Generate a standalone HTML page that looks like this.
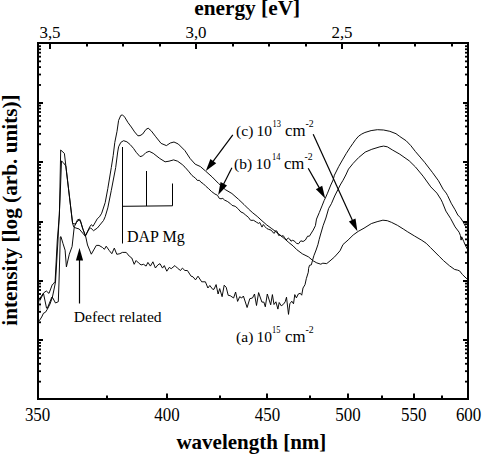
<!DOCTYPE html>
<html><head><meta charset="utf-8"><style>
html,body{margin:0;padding:0;background:#fff;width:482px;height:455px;overflow:hidden}
svg{display:block}
text{font-family:"Liberation Serif",serif;fill:#000}
</style></head><body>
<svg width="482" height="455" viewBox="0 0 482 455">
<g><polyline points="38.0,298.5 39.5,299.0 43.5,293.0 46.3,291.0 49.0,293.4 52.3,284.6 53.2,284.2 55.1,281.4 57.3,240.0 59.4,215.0 60.7,150.0 64.4,153.4 72.6,223.4 75.4,224.1 77.6,219.7 79.8,219.2 82.5,228.0 85.5,235.7 89.7,226.9 91.3,224.7 93.0,226.3 97.4,218.6 99.5,216.8 101.7,213.2 105.2,202.6 107.8,188.6 111.3,167.5 113.2,155.5 114.8,142.4 117.0,131.4 118.6,120.4 120.8,115.4 122.5,114.9 124.7,117.1 128.0,122.6 131.3,127.0 134.6,131.9 137.9,135.8 140.0,135.6 142.6,134.1 145.9,129.5 148.2,128.2 151.2,130.8 155.8,136.8 161.1,143.4 166.4,145.6 170.3,143.0 174.0,142.0 178.3,144.0 184.9,150.6 190.1,158.5 195.2,164.2 200.3,166.5 205.6,171.1 212.2,177.0 218.7,183.6 225.3,189.6 231.9,193.5 238.5,199.3 244.0,204.5 248.4,208.9 252.8,212.9 257.2,216.4 262.0,220.8 266.8,225.0 271.2,228.2 275.6,231.5 280.0,235.0 284.4,238.6 288.8,242.5 293.2,246.0 296.7,249.6 302.3,253.8 308.5,256.9 313.1,260.8 316.8,262.9 320.8,264.2 322.8,263.2 326.7,263.6 330.0,260.9 334.6,256.9 340.0,250.8 343.0,244.5 348.1,240.0 353.2,235.0 358.2,231.4 364.0,228.2 371.3,223.6 377.1,221.7 382.9,220.2 387.3,220.7 391.6,222.4 397.4,225.3 403.3,229.0 407.3,231.6 414.5,236.0 421.8,240.3 426.1,243.2 430.5,247.6 434.9,252.0 439.2,256.3 443.6,260.7 449.4,265.7 454.5,269.4 457.4,270.1 459.5,270.8 462.4,274.5 466.1,278.1 467.5,279.3" fill="none" stroke="#000" stroke-width="0.95" stroke-linejoin="round"/>
<polyline points="38.0,321.5 39.4,320.6 41.7,317.0 43.5,313.2 45.4,312.3 47.2,309.5 50.0,304.0 52.3,297.5 53.7,291.0 55.5,282.0 58.0,240.0 60.0,200.0 61.5,161.0 63.5,162.8 65.8,166.0 72.6,223.4 73.7,226.9 75.9,228.0 79.2,229.0 85.3,236.2 89.1,229.0 90.8,228.0 93.5,230.7 97.4,228.0 103.5,220.5 105.2,216.7 107.8,207.9 111.3,190.4 115.7,167.5 117.7,152.0 118.6,146.8 120.8,142.4 123.6,140.7 126.9,141.8 130.2,144.6 133.5,148.4 136.2,152.3 140.0,156.6 142.6,155.9 145.9,152.6 149.2,151.3 153.2,153.3 159.8,158.5 165.1,161.8 169.0,161.2 173.6,159.9 177.6,161.2 182.2,164.5 185.0,167.2 188.5,171.2 192.0,175.5 193.8,176.9 195.5,178.2 197.3,180.4 199.5,180.4 200.8,182.1 203.5,183.9 206.1,186.5 208.7,188.7 211.4,191.4 214.9,194.0 217.5,195.3 219.3,198.4 221.0,198.8 222.8,198.4 224.6,200.1 227.3,201.4 229.9,203.2 232.1,205.4 235.2,206.3 237.8,208.5 240.9,212.0 243.1,212.9 245.7,215.1 248.4,217.3 250.6,220.3 253.6,220.3 256.3,222.1 258.5,223.4 259.8,222.5 261.1,225.2 262.0,227.1 263.3,224.5 265.0,226.7 266.8,228.5 268.5,229.3 271.2,230.2 273.4,232.9 274.3,233.3 275.6,230.7 276.9,231.1 278.7,235.5 280.0,235.0 281.7,236.4 283.1,235.5 284.4,237.3 286.1,239.9 288.3,238.1 289.6,239.0 291.0,241.2 292.3,240.3 294.0,240.8 296.7,243.4 298.5,243.8 300.8,240.8 303.1,241.5 305.4,240.0 307.6,236.2 309.4,236.2 313.2,230.1 315.4,225.7 316.5,219.1 319.3,212.5 322.0,205.9 324.2,200.4 325.3,198.2 327.5,193.2 330.8,185.0 333.1,180.0 334.4,175.2 338.8,166.4 342.5,159.9 346.2,153.6 350.0,147.6 352.8,143.6 355.6,139.6 358.7,136.1 361.8,134.0 364.9,132.5 371.1,130.6 377.4,129.7 383.6,130.0 389.8,131.3 396.0,133.7 399.8,136.5 406.2,140.8 410.8,145.6 415.4,151.5 424.6,162.3 432.3,172.3 438.5,180.8 443.1,189.2 446.2,193.1 447.6,195.6 451.2,203.2 455.1,209.8 457.8,215.0 460.4,217.7 463.0,221.6 465.0,225.6 467.5,228.5" fill="none" stroke="#000" stroke-width="0.95" stroke-linejoin="round"/>
<polyline points="38.0,300.5 39.5,301.0 43.5,293.5 46.5,308.0 47.2,308.6 51.9,297.0 52.8,298.0 55.5,303.0 58.3,301.7 59.0,282.0 60.3,237.0 60.9,236.5 63.0,243.6 65.1,250.2 66.4,266.9 69.3,254.2 72.1,246.5 73.9,230.0 74.4,226.4 76.5,222.5 78.2,220.5 80.5,220.8 83.0,229.5 85.8,237.0 87.5,245.0 91.3,254.2 96.3,245.4 99.0,245.4 102.5,247.5 104.4,249.3 106.2,246.2 109.3,250.6 111.8,253.7 114.3,248.1 116.8,254.3 119.9,253.7 122.4,252.4 126.2,252.4 129.3,256.2 131.8,258.0 134.2,264.3 136.1,260.5 138.6,263.0 141.1,264.9 143.6,264.3 146.1,266.1 147.9,262.4 150.4,266.1 152.9,261.8 155.4,268.0 157.9,264.9 160.0,263.7 162.5,268.1 164.3,265.6 166.8,271.2 169.3,267.4 171.2,268.7 174.9,265.6 177.4,268.1 180.5,270.5 182.4,268.1 184.9,270.5 187.4,270.5 191.1,276.2 193.0,276.8 195.5,279.9 198.0,276.2 201.7,281.8 205.4,281.8 207.9,288.0 209.8,285.5 212.7,289.3 214.0,289.3 216.1,284.6 218.1,294.0 219.7,288.6 222.1,296.7 224.2,285.2 226.2,287.3 228.2,295.3 230.2,295.7 233.6,298.0 235.6,292.0 237.6,301.4 239.7,296.7 241.7,298.0 243.4,296.0 247.1,307.5 249.8,298.7 252.5,298.0 254.5,294.0 256.5,305.5 258.6,292.6 261.9,302.1 263.9,302.1 265.3,306.8 267.3,294.0 270.7,304.8 272.4,294.6 274.0,304.5 275.9,301.8 277.9,309.1 279.2,302.5 281.2,305.8 283.2,304.5 285.2,301.8 286.5,297.2 288.5,314.4 289.8,303.8 291.8,301.2 293.5,303.8 294.8,294.6 296.4,297.9 298.4,293.9 300.3,293.3 301.7,295.2 303.0,288.0 305.0,284.7 306.3,278.7 308.3,272.2 308.6,268.4 309.5,265.3 311.3,264.9 312.6,260.1 313.9,255.7 316.1,250.0 317.9,244.7 319.2,239.4 320.4,235.0 323.1,225.7 325.9,218.0 328.6,208.6 331.4,203.7 334.7,196.0 338.0,189.4 340.2,185.0 343.0,180.3 345.8,175.0 348.5,169.1 353.1,163.4 358.6,157.6 365.2,152.1 371.8,149.3 376.0,148.0 379.9,146.8 383.6,146.1 387.3,146.8 392.3,149.9 399.8,154.2 409.2,160.8 415.4,166.9 423.1,176.2 430.8,186.9 436.9,193.1 440.8,199.2 442.3,202.2 445.9,211.1 450.5,218.3 455.1,226.9 459.1,232.2 460.4,235.5 461.1,240.1 461.7,236.8 463.7,241.4 465.7,246.0 467.5,249.5" fill="none" stroke="#000" stroke-width="0.95" stroke-linejoin="round"/>
<line x1="40" y1="300" x2="40" y2="312" stroke="#bbb" stroke-width="0.9"/></g>
<g fill="#000"><rect x="38" y="43" width="430" height="356" fill="none" stroke="#000" stroke-width="2"/>
<rect x="49" y="44" width="2" height="5.0"/>
<rect x="86" y="44" width="2" height="2.5"/>
<rect x="122" y="44" width="2" height="2.5"/>
<rect x="159" y="44" width="2" height="2.5"/>
<rect x="195" y="44" width="2" height="5.0"/>
<rect x="232" y="44" width="2" height="2.5"/>
<rect x="268" y="44" width="2" height="2.5"/>
<rect x="305" y="44" width="2" height="2.5"/>
<rect x="341" y="44" width="2" height="5.0"/>
<rect x="378" y="44" width="2" height="2.5"/>
<rect x="414" y="44" width="2" height="2.5"/>
<rect x="451" y="44" width="2" height="2.5"/>
<rect x="106" y="395.5" width="2" height="2.5"/>
<rect x="166" y="393.5" width="2" height="4.5"/>
<rect x="219" y="395.5" width="2" height="2.5"/>
<rect x="266" y="393.5" width="2" height="4.5"/>
<rect x="309" y="395.5" width="2" height="2.5"/>
<rect x="347" y="393.5" width="2" height="4.5"/>
<rect x="381" y="395.5" width="2" height="2.5"/>
<rect x="413" y="393.5" width="2" height="4.5"/>
<rect x="441" y="395.5" width="2" height="2.5"/>
<rect x="39" y="380.74" width="2" height="1.8"/>
<rect x="465" y="380.74" width="2" height="1.8"/>
<rect x="39" y="370.29" width="2" height="1.8"/>
<rect x="465" y="370.29" width="2" height="1.8"/>
<rect x="39" y="362.88" width="2" height="1.8"/>
<rect x="465" y="362.88" width="2" height="1.8"/>
<rect x="39" y="357.13" width="2" height="1.8"/>
<rect x="465" y="357.13" width="2" height="1.8"/>
<rect x="39" y="352.43" width="2" height="1.8"/>
<rect x="465" y="352.43" width="2" height="1.8"/>
<rect x="39" y="348.46" width="2" height="1.8"/>
<rect x="465" y="348.46" width="2" height="1.8"/>
<rect x="39" y="345.02" width="2" height="1.8"/>
<rect x="465" y="345.02" width="2" height="1.8"/>
<rect x="39" y="341.98" width="2" height="1.8"/>
<rect x="465" y="341.98" width="2" height="1.8"/>
<rect x="39" y="339" width="4" height="2"/>
<rect x="463" y="339" width="4" height="2"/>
<rect x="39" y="321.41" width="2" height="1.8"/>
<rect x="465" y="321.41" width="2" height="1.8"/>
<rect x="39" y="310.96" width="2" height="1.8"/>
<rect x="465" y="310.96" width="2" height="1.8"/>
<rect x="39" y="303.54" width="2" height="1.8"/>
<rect x="465" y="303.54" width="2" height="1.8"/>
<rect x="39" y="297.79" width="2" height="1.8"/>
<rect x="465" y="297.79" width="2" height="1.8"/>
<rect x="39" y="293.10" width="2" height="1.8"/>
<rect x="465" y="293.10" width="2" height="1.8"/>
<rect x="39" y="289.12" width="2" height="1.8"/>
<rect x="465" y="289.12" width="2" height="1.8"/>
<rect x="39" y="285.68" width="2" height="1.8"/>
<rect x="465" y="285.68" width="2" height="1.8"/>
<rect x="39" y="282.65" width="2" height="1.8"/>
<rect x="465" y="282.65" width="2" height="1.8"/>
<rect x="39" y="280" width="4" height="2"/>
<rect x="463" y="280" width="4" height="2"/>
<rect x="39" y="262.07" width="2" height="1.8"/>
<rect x="465" y="262.07" width="2" height="1.8"/>
<rect x="39" y="251.62" width="2" height="1.8"/>
<rect x="465" y="251.62" width="2" height="1.8"/>
<rect x="39" y="244.21" width="2" height="1.8"/>
<rect x="465" y="244.21" width="2" height="1.8"/>
<rect x="39" y="238.46" width="2" height="1.8"/>
<rect x="465" y="238.46" width="2" height="1.8"/>
<rect x="39" y="233.76" width="2" height="1.8"/>
<rect x="465" y="233.76" width="2" height="1.8"/>
<rect x="39" y="229.79" width="2" height="1.8"/>
<rect x="465" y="229.79" width="2" height="1.8"/>
<rect x="39" y="226.35" width="2" height="1.8"/>
<rect x="465" y="226.35" width="2" height="1.8"/>
<rect x="39" y="223.31" width="2" height="1.8"/>
<rect x="465" y="223.31" width="2" height="1.8"/>
<rect x="39" y="221" width="4" height="2"/>
<rect x="463" y="221" width="4" height="2"/>
<rect x="39" y="202.74" width="2" height="1.8"/>
<rect x="465" y="202.74" width="2" height="1.8"/>
<rect x="39" y="192.29" width="2" height="1.8"/>
<rect x="465" y="192.29" width="2" height="1.8"/>
<rect x="39" y="184.88" width="2" height="1.8"/>
<rect x="465" y="184.88" width="2" height="1.8"/>
<rect x="39" y="179.13" width="2" height="1.8"/>
<rect x="465" y="179.13" width="2" height="1.8"/>
<rect x="39" y="174.43" width="2" height="1.8"/>
<rect x="465" y="174.43" width="2" height="1.8"/>
<rect x="39" y="170.46" width="2" height="1.8"/>
<rect x="465" y="170.46" width="2" height="1.8"/>
<rect x="39" y="167.02" width="2" height="1.8"/>
<rect x="465" y="167.02" width="2" height="1.8"/>
<rect x="39" y="163.98" width="2" height="1.8"/>
<rect x="465" y="163.98" width="2" height="1.8"/>
<rect x="39" y="161" width="4" height="2"/>
<rect x="463" y="161" width="4" height="2"/>
<rect x="39" y="143.41" width="2" height="1.8"/>
<rect x="465" y="143.41" width="2" height="1.8"/>
<rect x="39" y="132.96" width="2" height="1.8"/>
<rect x="465" y="132.96" width="2" height="1.8"/>
<rect x="39" y="125.54" width="2" height="1.8"/>
<rect x="465" y="125.54" width="2" height="1.8"/>
<rect x="39" y="119.79" width="2" height="1.8"/>
<rect x="465" y="119.79" width="2" height="1.8"/>
<rect x="39" y="115.10" width="2" height="1.8"/>
<rect x="465" y="115.10" width="2" height="1.8"/>
<rect x="39" y="111.12" width="2" height="1.8"/>
<rect x="465" y="111.12" width="2" height="1.8"/>
<rect x="39" y="107.68" width="2" height="1.8"/>
<rect x="465" y="107.68" width="2" height="1.8"/>
<rect x="39" y="104.65" width="2" height="1.8"/>
<rect x="465" y="104.65" width="2" height="1.8"/>
<rect x="39" y="102" width="4" height="2"/>
<rect x="463" y="102" width="4" height="2"/>
<rect x="39" y="84.07" width="2" height="1.8"/>
<rect x="465" y="84.07" width="2" height="1.8"/>
<rect x="39" y="73.62" width="2" height="1.8"/>
<rect x="465" y="73.62" width="2" height="1.8"/>
<rect x="39" y="66.21" width="2" height="1.8"/>
<rect x="465" y="66.21" width="2" height="1.8"/>
<rect x="39" y="60.46" width="2" height="1.8"/>
<rect x="465" y="60.46" width="2" height="1.8"/>
<rect x="39" y="55.76" width="2" height="1.8"/>
<rect x="465" y="55.76" width="2" height="1.8"/>
<rect x="39" y="51.79" width="2" height="1.8"/>
<rect x="465" y="51.79" width="2" height="1.8"/>
<rect x="39" y="48.35" width="2" height="1.8"/>
<rect x="465" y="48.35" width="2" height="1.8"/>
<rect x="39" y="45.31" width="2" height="1.8"/>
<rect x="465" y="45.31" width="2" height="1.8"/></g>
<g><path d="M122.5,147 V243.5 M122.5,206.3 L172.5,205.8 M146.5,171 V206 M172.5,183.5 V205.8" stroke="#000" stroke-width="1" fill="none"/>
<line x1="79.5" y1="303.5" x2="79.5" y2="259.5" stroke="#000" stroke-width="1.2"/><polygon points="79.5,248.0 83.1,260.5 75.9,260.5" fill="#000"/>
<line x1="232.8" y1="134.9" x2="212.7" y2="161.9" stroke="#000" stroke-width="1.2"/><polygon points="205.8,171.1 210.4,158.9 216.2,163.2" fill="#000"/>
<line x1="231.9" y1="167.8" x2="223.3" y2="184.7" stroke="#000" stroke-width="1.2"/><polygon points="218.1,194.9 220.6,182.1 227.0,185.4" fill="#000"/>
<line x1="313.2" y1="134.3" x2="352.6" y2="220.8" stroke="#000" stroke-width="1.2"/><polygon points="357.4,231.3 348.9,221.4 355.5,218.4" fill="#000"/>
<line x1="308.2" y1="168.2" x2="319.6" y2="188.4" stroke="#000" stroke-width="1.2"/><polygon points="325.2,198.4 315.9,189.3 322.2,185.7" fill="#000"/></g>
<g><text transform="translate(50.0,38.3) scale(1,1)" text-anchor="middle" font-size="16.9">3,5</text>
<text transform="translate(196.0,38.3) scale(1,1)" text-anchor="middle" font-size="16.9">3,0</text>
<text transform="translate(342.0,38.3) scale(1,1)" text-anchor="middle" font-size="16.9">2,5</text>
<text transform="translate(37.6,420.5) scale(0.98,1.04)" text-anchor="middle" font-size="17.3">350</text>
<text transform="translate(166.9,420.5) scale(0.98,1.04)" text-anchor="middle" font-size="17.3">400</text>
<text transform="translate(267.5,420.5) scale(0.98,1.04)" text-anchor="middle" font-size="17.3">450</text>
<text transform="translate(347.9,420.5) scale(0.98,1.04)" text-anchor="middle" font-size="17.3">500</text>
<text transform="translate(413.8,420.5) scale(0.98,1.04)" text-anchor="middle" font-size="17.3">550</text>
<text transform="translate(468.6,420.5) scale(0.98,1.04)" text-anchor="middle" font-size="17.3">600</text>
<text x="247.2" y="14.6" text-anchor="middle" font-size="21.3" font-weight="bold">energy [eV]</text>
<text x="251.4" y="449.1" text-anchor="middle" font-size="21" font-weight="bold">wavelength [nm]</text>
<text transform="translate(16.5,210) rotate(-90)" x="0" y="0" text-anchor="middle" font-size="21.25" font-weight="bold">intensity [log (arb. units)]</text>
<text x="73.8" y="321.5" font-size="15.6">Defect related</text>
<text x="127" y="241.8" font-size="16">DAP Mg</text>
<text x="236.1" y="135.7" font-size="15.5">(c)</text><text x="256.6" y="135.7" font-size="15.5">10</text><text transform="translate(272.5,126.7) scale(0.86,1)" font-size="9.8">13</text><text transform="translate(285.0,135.7) scale(1.05,1)" font-size="16">cm</text><text x="305.5" y="126.7" font-size="9.8">-2</text>
<text x="234.0" y="168.9" font-size="15.5">(b)</text><text x="255.6" y="168.9" font-size="15.5">10</text><text transform="translate(272.1,159.9) scale(0.86,1)" font-size="9.8">14</text><text transform="translate(283.9,168.9) scale(1.05,1)" font-size="16">cm</text><text x="304.5" y="159.9" font-size="9.8">-2</text>
<text x="236.1" y="341.5" font-size="15.5">(a)</text><text x="256.6" y="341.5" font-size="15.5">10</text><text transform="translate(272.1,332.5) scale(0.86,1)" font-size="9.8">15</text><text transform="translate(285.0,341.5) scale(1.05,1)" font-size="16">cm</text><text x="305.5" y="332.5" font-size="9.8">-2</text></g>
</svg>
</body></html>
